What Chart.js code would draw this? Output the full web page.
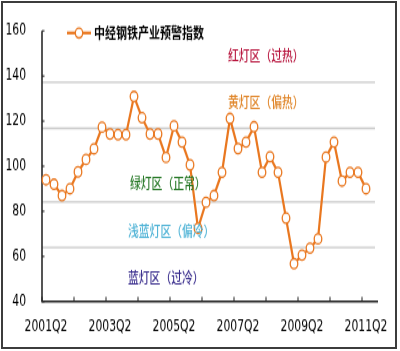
<!DOCTYPE html>
<html>
<head>
<meta charset="utf-8">
<script src="https://cdn.jsdelivr.net/npm/chart.js@4/dist/chart.umd.min.js"></script>
<style>
  html, body { margin: 0; padding: 0; background: #fff; }
  #wrap { position: relative; width: 400px; height: 351px; overflow: hidden; }
  #chart { position: absolute; left: 0; top: 0; }
  #frame { position: absolute; left: 1px; top: 1px; width: 396px; height: 348px;
           border: 2px solid #3c3c3c; box-sizing: border-box; pointer-events: none; }
</style>
</head>
<body>
<div id="wrap">
  <!-- drawn on a shorter canvas and stretched, like the original picture -->
  <canvas id="chart" width="400" height="264" style="width:400px;height:351px"></canvas>
  <div id="frame"></div>
</div>
<script>
const quarters = [
  '2001Q2', '2001Q3', '2001Q4', '2002Q1', '2002Q2', '2002Q3', '2002Q4', '2003Q1',
  '2003Q2', '2003Q3', '2003Q4', '2004Q1', '2004Q2', '2004Q3', '2004Q4', '2005Q1',
  '2005Q2', '2005Q3', '2005Q4', '2006Q1', '2006Q2', '2006Q3', '2006Q4', '2007Q1',
  '2007Q2', '2007Q3', '2007Q4', '2008Q1', '2008Q2', '2008Q3', '2008Q4', '2009Q1',
  '2009Q2', '2009Q3', '2009Q4', '2010Q1', '2010Q2', '2010Q3', '2010Q4', '2011Q1',
  '2011Q2', '2011Q3'
];

const warningIndex = [
  94, 92, 87, 90, 97.5, 103, 107.7, 117.3,
  114.3, 114, 114, 130.9, 121.5, 114.3, 114.3, 103.9,
  117.9, 110.7, 100.6, 72.5, 84, 87, 97.3, 121.2,
  107.8, 110.7, 117.5, 97.3, 104.2, 97.3, 77, 56.8,
  60.6, 63.7, 67.8, 104, 110.7, 93.4, 97.3, 97.3,
  90, null
];

const seriesName = '中经钢铁产业预警指数';

// zone boundaries
const zoneLines = [137.2, 116.8, 84.2, 64];

const zoneNames = ['红灯区（过热）', '黄灯区（偏热）', '绿灯区（正常）', '浅蓝灯区（偏冷）', '蓝灯区（过冷）'];

const yTicks = [40, 60, 80, 100, 120, 140, 160];

const ORANGE = '#e9771f';
const TICK_FONT = '"Liberation Sans Narrow", "DejaVu Sans Condensed", "Liberation Sans", sans-serif';
const CJK_FONT = '"Noto Sans CJK SC", sans-serif';

// label anchors in (category index, value)
const zoneStyle = [
  { i: 22.75, v: 149, color: '#b8173f' },
  { i: 22.75, v: 128.2, color: '#e0862a' },
  { i: 10.5, v: 92.6, color: '#2b7b2b' },
  { i: 10.25, v: 71, color: '#4fb3d6' },
  { i: 10.25, v: 50.6, color: '#3b2f8e' },
];

const decorations = {
  id: 'decorations',
  beforeDatasetsDraw(chart) {
    const { ctx, chartArea: a, scales: { y } } = chart;
    ctx.save();
    ctx.strokeStyle = '#c9c9c9';
    ctx.lineWidth = 1.3;
    zoneLines.forEach(v => {
      const py = y.getPixelForValue(v);
      ctx.beginPath();
      ctx.moveTo(a.left, py);
      ctx.lineTo(a.right - 3, py);
      ctx.stroke();
    });

    // axes
    ctx.strokeStyle = '#1e1e1e';
    ctx.lineWidth = 1.5;
    ctx.beginPath();
    ctx.moveTo(a.left, a.top);
    ctx.lineTo(a.left, a.bottom);
    ctx.lineTo(a.right, a.bottom);
    ctx.stroke();

    ctx.lineWidth = 1;
    yTicks.forEach(v => {
      const py = y.getPixelForValue(v);
      ctx.beginPath();
      ctx.moveTo(a.left, py);
      ctx.lineTo(a.left + 2.5, py);
      ctx.stroke();
    });
    const x = chart.scales.x;
    for (let k = 0; k * 4 < quarters.length; k++) {
      const px = x.getPixelForValue(k * 4 - 0.5);
      ctx.beginPath();
      ctx.moveTo(px, a.bottom);
      ctx.lineTo(px, a.bottom - 3.5);
      ctx.stroke();
    }
    ctx.restore();
  },
  afterDatasetsDraw(chart) {
    const { ctx, scales: { x, y } } = chart;
    ctx.save();
    ctx.font = '500 10.8px ' + CJK_FONT;
    ctx.textAlign = 'left';
    ctx.textBaseline = 'middle';
    zoneNames.forEach((name, n) => {
      const s = zoneStyle[n];
      ctx.fillStyle = s.color;
      ctx.fillText(name, x.getPixelForValue(s.i), y.getPixelForValue(s.v));
    });

    // legend
    const ly = 24.8;
    ctx.strokeStyle = ORANGE;
    ctx.lineWidth = 2.2;
    ctx.beginPath();
    ctx.moveTo(67, ly);
    ctx.lineTo(91, ly);
    ctx.stroke();
    ctx.beginPath();
    ctx.arc(79, ly, 3.7, 0, Math.PI * 2);
    ctx.fillStyle = '#fff';
    ctx.fill();
    ctx.lineWidth = 1.3;
    ctx.stroke();
    ctx.fillStyle = '#000';
    ctx.font = 'bold 11px ' + CJK_FONT;
    ctx.fillText(seriesName, 94, ly + 0.5);
    ctx.restore();
  }
};

new Chart(document.getElementById('chart'), {
  type: 'line',
  data: {
    labels: quarters,
    datasets: [{
      label: seriesName,
      data: warningIndex,
      borderColor: ORANGE,
      borderWidth: 2.2,
      pointRadius: 3.8,
      pointBackgroundColor: '#fff',
      pointBorderColor: ORANGE,
      pointBorderWidth: 1.3,
      tension: 0,
      spanGaps: false
    }]
  },
  options: {
    responsive: false,
    animation: false,
    devicePixelRatio: 1,
    layout: { padding: { top: 18.4, right: 22, left: 0, bottom: 0 } },
    plugins: {
      legend: { display: false },
      tooltip: { enabled: false }
    },
    scales: {
      x: {
        type: 'category',
        offset: true,
        grid: { display: false, drawTicks: false },
        border: { display: false },
        ticks: {
          autoSkip: false,
          maxRotation: 0,
          padding: 12,
          color: '#000',
          font: { family: TICK_FONT, size: 12 },
          callback(val, i) {
            return i % 8 === 0 ? this.getLabelForValue(val) : '';
          }
        },
        afterFit(scale) { scale.height = 37.2; }
      },
      y: {
        min: 40,
        max: 160,
        grid: { display: false, drawTicks: false },
        border: { display: false },
        ticks: {
          stepSize: 20,
          padding: 16,
          color: '#000',
          font: { family: TICK_FONT, size: 12 }
        },
        afterFit(scale) { scale.width = 42; }
      }
    }
  },
  plugins: [decorations]
});
</script>
</body>
</html>
